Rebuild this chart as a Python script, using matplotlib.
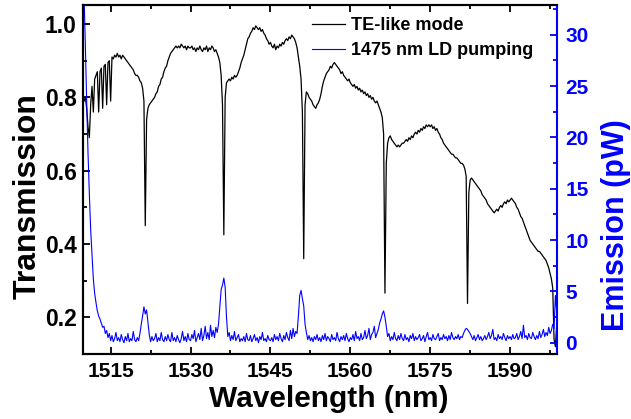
import numpy as np
import matplotlib.pyplot as plt
from matplotlib.ticker import MultipleLocator

plt.rcParams['font.family'] = ['Liberation Sans', 'DejaVu Sans']
plt.rcParams['font.weight'] = 'bold'

# spectra sampled every 0.25 nm starting at 1510 nm (one row = 5 nm)
start_nm = 1510.0
step_nm = 0.25

transmission = [
    0.79, 0.80, 0.77, 0.72, 0.69, 0.78, 0.83, 0.76, 0.85, 0.86, 0.87, 0.76, 0.87, 0.88, 0.77, 0.885, 0.89, 0.78, 0.895, 0.90,
    0.79, 0.91, 0.905, 0.915, 0.91, 0.92, 0.91, 0.915, 0.905, 0.915, 0.91, 0.905, 0.90, 0.895, 0.89, 0.885, 0.88, 0.875, 0.865, 0.86,
    0.86, 0.855, 0.845, 0.84, 0.825, 0.79, 0.45, 0.74, 0.77, 0.78, 0.785, 0.79, 0.795, 0.80, 0.81, 0.815, 0.83, 0.835, 0.85, 0.855,
    0.87, 0.88, 0.885, 0.90, 0.91, 0.92, 0.925, 0.93, 0.935, 0.94, 0.935, 0.94, 0.935, 0.945, 0.94, 0.935, 0.94, 0.93, 0.94, 0.935,
    0.935, 0.94, 0.93, 0.935, 0.925, 0.935, 0.93, 0.94, 0.93, 0.925, 0.935, 0.93, 0.94, 0.925, 0.935, 0.93, 0.94, 0.935, 0.925, 0.93,
    0.92, 0.91, 0.895, 0.86, 0.78, 0.425, 0.80, 0.84, 0.845, 0.85, 0.845, 0.855, 0.85, 0.86, 0.855, 0.86, 0.87, 0.88, 0.895, 0.905,
    0.915, 0.93, 0.945, 0.96, 0.965, 0.975, 0.98, 0.99, 0.985, 0.995, 0.99, 0.985, 0.99, 0.98, 0.985, 0.975, 0.97, 0.96, 0.955, 0.945,
    0.95, 0.94, 0.935, 0.945, 0.93, 0.94, 0.935, 0.945, 0.94, 0.95, 0.945, 0.955, 0.96, 0.955, 0.965, 0.96, 0.97, 0.965, 0.96, 0.95,
    0.935, 0.91, 0.885, 0.85, 0.76, 0.36, 0.78, 0.815, 0.81, 0.80, 0.795, 0.79, 0.78, 0.775, 0.77, 0.78, 0.785, 0.795, 0.81, 0.83,
    0.845, 0.855, 0.865, 0.87, 0.875, 0.885, 0.88, 0.89, 0.895, 0.89, 0.885, 0.88, 0.875, 0.865, 0.87, 0.86, 0.855, 0.85, 0.845, 0.85,
    0.84, 0.835, 0.83, 0.835, 0.825, 0.83, 0.82, 0.825, 0.815, 0.82, 0.81, 0.815, 0.805, 0.81, 0.80, 0.805, 0.795, 0.80, 0.79, 0.785,
    0.79, 0.78, 0.77, 0.76, 0.745, 0.70, 0.266, 0.62, 0.675, 0.69, 0.695, 0.685, 0.68, 0.675, 0.67, 0.665, 0.67, 0.665, 0.67, 0.675,
    0.675, 0.68, 0.685, 0.68, 0.69, 0.685, 0.695, 0.69, 0.70, 0.705, 0.70, 0.71, 0.705, 0.715, 0.71, 0.72, 0.715, 0.725, 0.72, 0.725,
    0.72, 0.725, 0.715, 0.72, 0.71, 0.715, 0.705, 0.70, 0.69, 0.685, 0.675, 0.67, 0.665, 0.66, 0.655, 0.65, 0.645, 0.645, 0.64, 0.635,
    0.635, 0.63, 0.625, 0.62, 0.62, 0.615, 0.605, 0.585, 0.238, 0.54, 0.575, 0.58, 0.575, 0.57, 0.565, 0.56, 0.555, 0.55, 0.545, 0.535,
    0.53, 0.525, 0.52, 0.51, 0.505, 0.50, 0.495, 0.49, 0.485, 0.49, 0.495, 0.49, 0.50, 0.505, 0.50, 0.51, 0.515, 0.51, 0.52, 0.515,
    0.52, 0.525, 0.52, 0.515, 0.51, 0.50, 0.495, 0.485, 0.475, 0.47, 0.46, 0.45, 0.44, 0.43, 0.42, 0.41, 0.405, 0.40, 0.395, 0.39,
    0.385, 0.38, 0.38, 0.375, 0.37, 0.365, 0.36, 0.355, 0.345, 0.335, 0.32, 0.305, 0.28, 0.14, 0.12, 0.18,
]

emission = [
    34.0, 29.0, 23.5, 18.5, 14.5, 11.0, 8.5, 6.2, 4.8, 3.9, 3.1, 2.6, 2.3, 1.9, 1.5, 1.6, 0.9, 1.2, 0.5, 0.9,
    0.2, 0.7, 0.1, 0.4, 1.0, 0.2, 0.5, 0.1, 0.8, 0.3, 0.0, 0.6, 0.2, 0.9, 0.1, 0.4, 0.2, 1.1, 0.3, 0.1,
    0.5, 0.2, 0.9, 1.8, 2.6, 3.5, 2.8, 3.2, 2.0, 0.8, 0.1, 0.6, 0.2, 0.4, 0.9, 0.1, 0.5, 0.2, 1.0, 0.3,
    0.1, 0.6, 0.2, 0.8, 0.3, 0.1, 1.0, 0.2, 0.5, 0.1, 0.7, 0.3, 0.0, 0.4, 1.1, 0.2, 0.6, 0.1, 0.9, 0.3,
    0.2, 0.8, 0.4, 1.2, 0.1, 0.5, 0.9, 0.3, 1.4, 0.2, 0.7, 1.6, 0.4, 1.0, 0.3, 1.7, 0.6, 1.2, 0.5, 1.5,
    1.0, 1.8, 3.5, 5.2, 5.6, 6.3, 5.4, 2.5, 0.6, 1.0, 0.2, 0.7, 0.3, 1.1, 0.2, 0.5, 0.8, 0.1, 0.4, 0.2,
    0.6, 0.1, 0.9, 0.3, 0.2, 0.7, 0.1, 0.4, 0.8, 0.2, 0.5, 0.0, 0.6, 0.3, 1.0, 0.2, 0.4, 0.1, 0.7, 0.3,
    0.2, 0.5, 0.1, 0.8, 0.3, 0.6, 0.2, 0.9, 0.4, 0.1, 0.7, 0.3, 1.0, 0.5, 0.2, 1.2, 0.4, 1.4, 0.6, 1.1,
    0.9, 2.6, 4.6, 5.1, 4.3, 3.6, 1.8, 1.0, 0.3, 0.7, 0.2, 0.5, 0.1, 0.6, 0.3, 0.8, 0.2, 0.5, 0.1, 0.7,
    0.3, 0.9, 0.2, 0.6, 0.4, 0.1, 0.8, 0.3, 0.5, 0.2, 1.0, 0.4, 0.1, 0.6, 0.3, 0.7, 0.2, 0.9, 0.4, 0.1,
    0.5, 0.3, 0.8, 0.2, 1.1, 0.4, 0.6, 0.2, 0.9, 0.3, 0.5, 1.2, 0.4, 0.7, 1.4, 0.3, 0.8, 1.0, 1.6, 0.5,
    0.9, 1.3, 1.9, 2.3, 2.8, 3.1, 2.5, 1.6, 0.6, 0.9, 0.2, 0.6, 0.3, 1.0, 0.4, 0.2, 0.7, 0.3, 0.9, 0.4,
    0.2, 0.8, 0.3, 0.5, 0.1, 0.7, 0.4, 0.9, 0.2, 0.6, 0.3, 0.5, 0.8, 0.2, 0.4, 0.7, 0.1, 0.6, 1.0, 0.3,
    0.5, 0.2, 0.8, 0.4, 0.3, 0.6, 0.9, 0.2, 0.5, 0.3, 0.8, 0.4, 0.6, 0.2, 0.7, 0.3, 1.0, 0.5, 0.3, 0.6,
    0.4, 0.8, 0.3, 0.6, 0.5, 0.9, 1.2, 1.4, 1.3, 1.1, 0.9, 0.6, 0.3, 0.7, 0.2, 0.5, 0.8, 0.3, 0.6, 0.2,
    0.4, 0.7, 0.3, 0.6, 1.0, 0.4, 0.7, 1.3, 0.3, 0.5, 0.2, 0.8, 0.4, 0.6, 0.3, 0.9, 0.5, 0.2, 0.7, 0.4,
    0.6, 0.3, 0.8, 0.4, 0.5, 0.9, 0.3, 0.6, 1.1, 0.4, 1.7, 0.5, 0.7, 0.3, 0.9, 0.5, 0.4, 1.0, 0.6, 0.3,
    0.7, 0.4, 1.1, 0.5, 0.8, 1.3, 0.6, 1.0, 0.7, 1.5, 0.9, 1.2, 1.8, 1.4, 4.6, 3.0,
]

wl_trans = start_nm + step_nm * np.arange(len(transmission))
wl_emis = start_nm + step_nm * np.arange(len(emission))

x_ticks = [1515, 1530, 1545, 1560, 1575, 1590]
t_ticks = [0.2, 0.4, 0.6, 0.8, 1.0]
e_ticks = [0, 5, 10, 15, 20, 25, 30]

fig = plt.figure(figsize=(6.31, 4.19), dpi=100)
ax = fig.add_axes([0.1323, 0.1551, 0.7504, 0.833])
ax2 = ax.twinx()

line_t, = ax.plot(wl_trans, transmission, color='black', lw=0.9, label='TE-like mode')
line_e, = ax2.plot(wl_emis, emission, color='blue', lw=0.8, label='1475 nm LD pumping')

ax.set_xlim(1509.9, 1598.8)
ax.set_ylim(0.1, 1.052)
ax2.set_ylim(-1.1, 32.9)

ax.set_xticks(x_ticks)
ax.xaxis.set_minor_locator(MultipleLocator(7.5))
ax.set_yticks(t_ticks)
ax.yaxis.set_minor_locator(MultipleLocator(0.1))
ax2.set_yticks(e_ticks)
ax2.yaxis.set_minor_locator(MultipleLocator(2.5))

ax.tick_params(axis='x', which='both', direction='in', top=True, width=1.3, labelsize=15, pad=6)
ax.tick_params(axis='y', which='both', direction='in', right=False, width=1.3, labelsize=16.5, pad=5)
ax.tick_params(which='major', length=5)
ax.tick_params(which='minor', length=3)
ax2.tick_params(axis='y', which='both', direction='in', colors='blue', width=1.3, labelsize=15, pad=6)
ax2.tick_params(which='major', length=5)
ax2.tick_params(which='minor', length=3)

for s in ax.spines.values():
    s.set_linewidth(1.5)
for s in ax2.spines.values():
    s.set_linewidth(1.5)
ax2.spines['right'].set_color('blue')
ax.spines['right'].set_visible(False)

ax.set_xlabel('Wavelength (nm)', fontsize=21.5, fontweight='bold')
ax.xaxis.set_label_coords(0.519, -0.089)
ax.set_ylabel('Transmission', fontsize=23, fontweight='bold')
ax.yaxis.set_label_coords(-0.087, 0.453)
ax2.set_ylabel('Emission (pW)', fontsize=22, fontweight='bold', color='blue')
ax2.yaxis.set_label_coords(1.092, 0.368)

ax2.legend([line_t, line_e], [line_t.get_label(), line_e.get_label()],
           loc='upper left', bbox_to_anchor=(0.482, 0.965), frameon=False,
           fontsize=13, handlelength=1.85, handletextpad=0.3,
           labelspacing=0.45, borderpad=0, borderaxespad=0)

fig.savefig('out.png', dpi=100)
